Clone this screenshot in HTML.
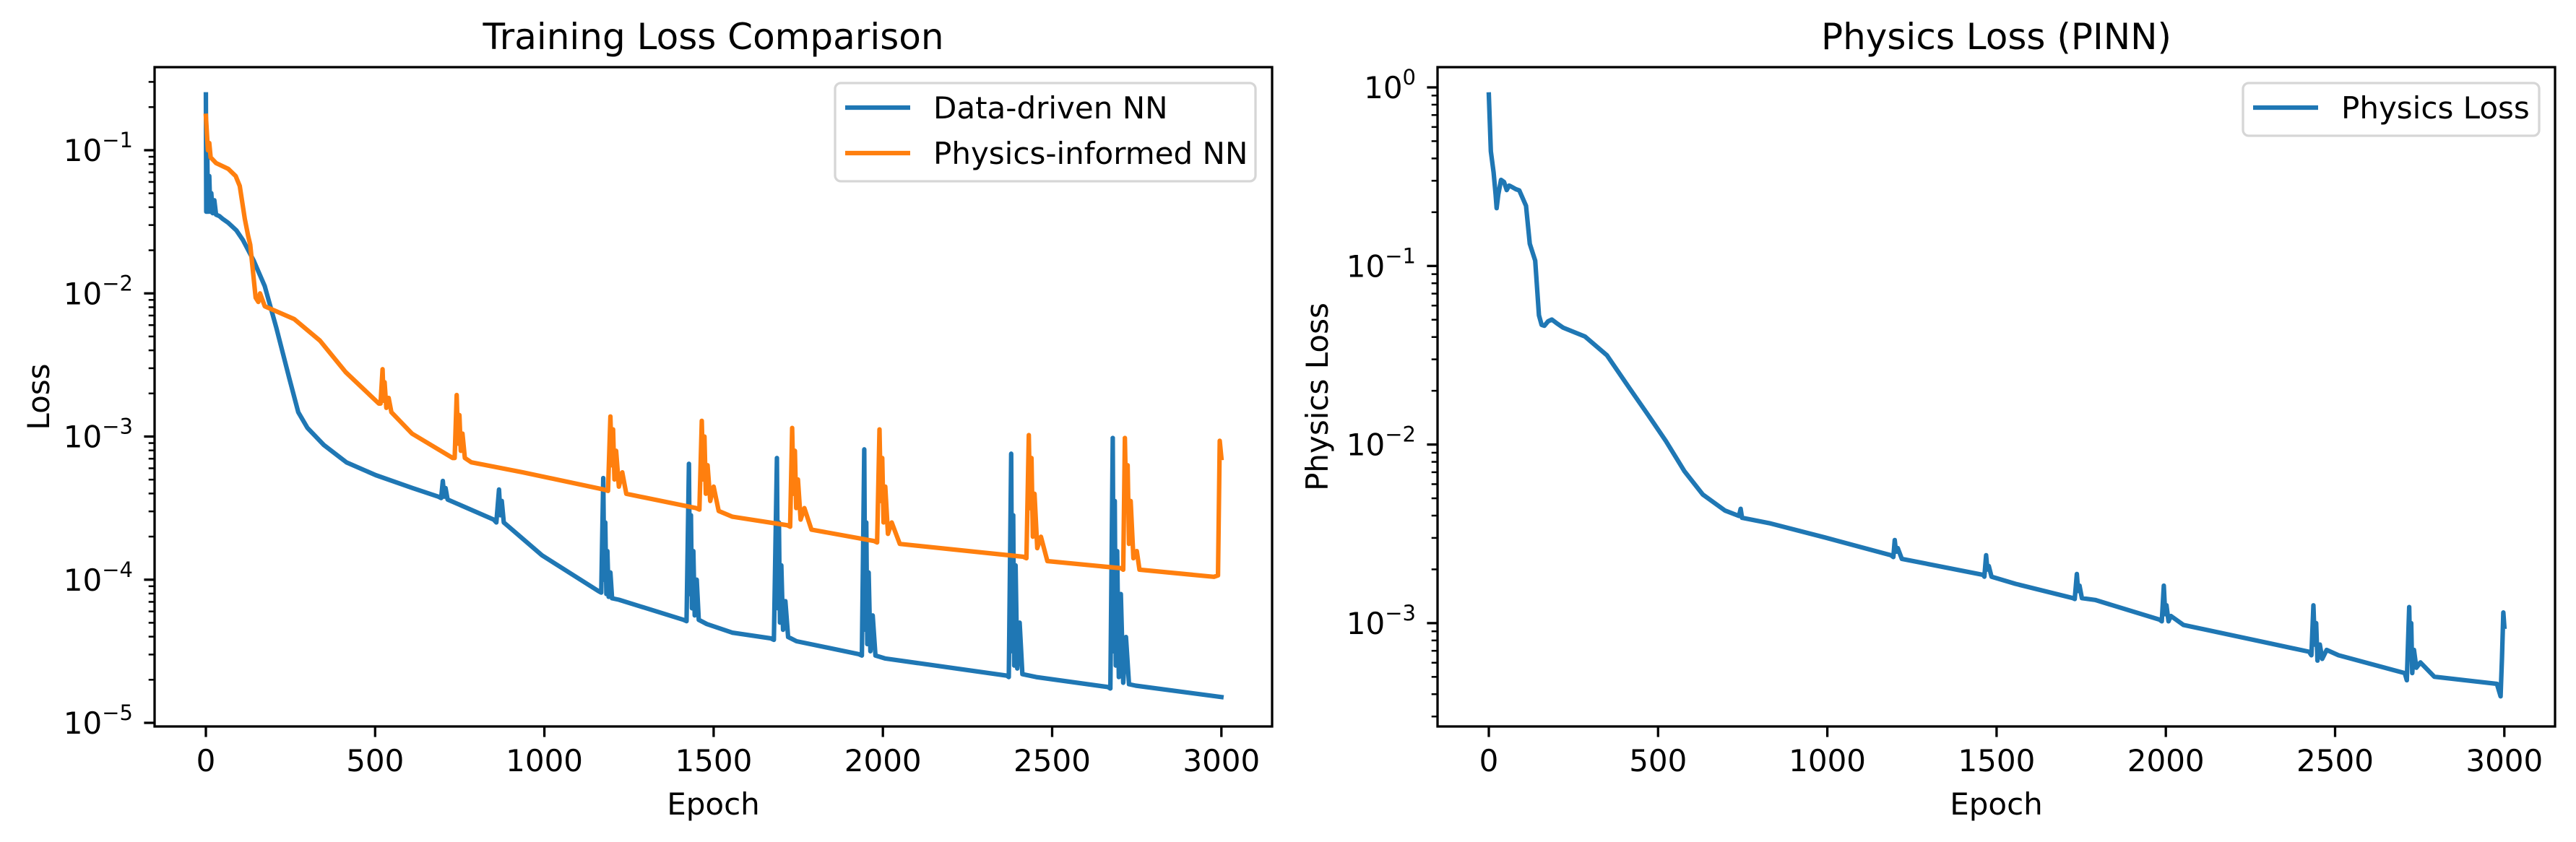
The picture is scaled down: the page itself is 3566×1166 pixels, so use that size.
<!DOCTYPE html>
<html><head><meta charset="utf-8"><style>
html,body{margin:0;padding:0;background:#fff}
svg{display:block}
text{font-family:"DejaVu Sans","Liberation Sans",sans-serif;fill:#000}
</style></head><body>
<svg id="fig" xmlns="http://www.w3.org/2000/svg" width="3566" height="1166" viewBox="0 0 3566 1166">
<rect width="3566" height="1166" fill="#fff"/>
</svg>
<script>
// ---- data (log10 of loss) ----
const dataEpochs=[0,1,4,6,10,13,16,20,25,30,40,50,66,90,109,141,174,208,246,273,300,349,415,502,611,687,695,700,704,708,714,850,858,866,870,874,880,993,1160,1168,1174,1177,1180,1183,1186,1190,1195,1200,1220,1411,1420,1427,1430,1433,1436,1440,1444,1450,1456,1480,1555,1669,1678,1687,1690,1693,1696,1700,1705,1712,1720,1745,1928,1938,1945,1948,1951,1954,1958,1963,1970,1978,2006,2366,2372,2379,2382,2385,2388,2392,2397,2404,2412,2453,2665,2672,2679,2682,2685,2688,2692,2697,2703,2710,2718,2727,2747,3000];
const dataLog10=[-0.61,-1.43,-1.0,-1.43,-1.18,-1.43,-1.3,-1.44,-1.35,-1.45,-1.46,-1.48,-1.507,-1.56,-1.626,-1.77,-1.95,-2.24,-2.59,-2.83,-2.94,-3.06,-3.18,-3.27,-3.36,-3.42,-3.43,-3.31,-3.42,-3.36,-3.44,-3.58,-3.6,-3.37,-3.55,-3.45,-3.6,-3.83,-4.08,-4.09,-3.29,-4.0,-3.6,-4.1,-3.8,-4.12,-3.95,-4.13,-4.14,-4.28,-4.29,-3.19,-4.1,-3.55,-4.2,-3.8,-4.25,-4.0,-4.28,-4.31,-4.37,-4.41,-4.42,-3.15,-4.2,-3.6,-4.3,-3.9,-4.35,-4.15,-4.4,-4.43,-4.52,-4.53,-3.09,-4.35,-3.6,-4.45,-3.95,-4.5,-4.25,-4.53,-4.55,-4.67,-4.68,-3.12,-4.5,-3.55,-4.6,-3.9,-4.62,-4.3,-4.66,-4.68,-4.75,-4.76,-3.01,-4.5,-3.45,-4.6,-3.8,-4.68,-4.1,-4.72,-4.4,-4.73,-4.74,-4.82];
const pinnEpochs=[0,6,10,14,30,66,88,100,115,125,131,147,155,160,174,261,337,413,511,516,522,525,528,533,540,548,609,729,735,741,745,749,753,758,765,784,936,1176,1188,1195,1199,1203,1207,1212,1220,1230,1242,1448,1458,1465,1469,1473,1477,1482,1490,1500,1515,1555,1718,1726,1732,1736,1740,1744,1749,1757,1768,1789,1974,1983,1990,1994,1998,2002,2007,2015,2026,2050,2415,2424,2431,2435,2439,2443,2448,2456,2467,2486,2704,2710,2715,2719,2723,2727,2732,2740,2750,2758,2978,2990,2995,3000];
const pinnLog10=[-0.76,-1.0,-0.95,-1.05,-1.09,-1.13,-1.18,-1.25,-1.48,-1.6,-1.66,-2.03,-2.06,-2.0,-2.09,-2.18,-2.33,-2.55,-2.77,-2.77,-2.53,-2.75,-2.62,-2.8,-2.73,-2.83,-2.98,-3.15,-3.15,-2.71,-3.05,-2.85,-3.1,-2.98,-3.15,-3.18,-3.25,-3.37,-3.38,-2.86,-3.2,-2.95,-3.3,-3.1,-3.35,-3.25,-3.40,-3.50,-3.51,-2.89,-3.3,-3.0,-3.4,-3.2,-3.45,-3.35,-3.52,-3.56,-3.62,-3.63,-2.94,-3.4,-3.1,-3.5,-3.3,-3.58,-3.5,-3.65,-3.73,-3.74,-2.95,-3.45,-3.15,-3.6,-3.35,-3.68,-3.6,-3.75,-3.84,-3.85,-2.99,-3.5,-3.15,-3.7,-3.4,-3.78,-3.7,-3.87,-3.92,-3.93,-3.01,-3.5,-3.2,-3.75,-3.45,-3.85,-3.8,-3.93,-3.98,-3.97,-3.03,-3.15];
const physEpochs=[0,6,14,20,23,28,36,45,53,60,66,80,90,110,121,137,148,156,164,175,186,200,219,284,349,414,469,523,578,632,698,739,744,748,828,992,1188,1195,1199,1203,1208,1220,1460,1464,1469,1473,1477,1485,1556,1726,1731,1737,1741,1745,1752,1791,1981,1988,1994,1998,2002,2008,2015,2052,2423,2430,2436,2440,2444,2448,2455,2462,2475,2510,2706,2712,2719,2722,2725,2728,2733,2740,2752,2793,2978,2989,2993,2997,3000];
const physLog10=[-0.04,-0.358,-0.476,-0.6,-0.676,-0.6,-0.518,-0.53,-0.575,-0.55,-0.555,-0.57,-0.577,-0.663,-0.876,-0.97,-1.276,-1.33,-1.335,-1.31,-1.30,-1.32,-1.345,-1.395,-1.50,-1.68,-1.83,-1.98,-2.15,-2.28,-2.37,-2.40,-2.36,-2.41,-2.44,-2.52,-2.62,-2.63,-2.535,-2.6,-2.58,-2.64,-2.73,-2.74,-2.62,-2.7,-2.68,-2.74,-2.78,-2.86,-2.865,-2.725,-2.82,-2.79,-2.86,-2.87,-2.98,-2.99,-2.79,-2.95,-2.9,-2.99,-2.96,-3.01,-3.16,-3.18,-2.90,-3.12,-3.0,-3.21,-3.12,-3.2,-3.15,-3.18,-3.28,-3.32,-2.91,-3.2,-3.0,-3.28,-3.15,-3.25,-3.22,-3.30,-3.34,-3.41,-3.2,-2.94,-3.02];
const xTicks=[0,500,1000,1500,2000,2500,3000];
const leftDecades=[-1,-2,-3,-4,-5];
const rightDecades=[0,-1,-2,-3];

const NS="http://www.w3.org/2000/svg";
const svg=document.getElementById('fig');
function el(tag,attrs,parent){const e=document.createElementNS(NS,tag);for(const k in attrs)e.setAttribute(k,attrs[k]);(parent||svg).appendChild(e);return e;}

function makeAxes(cfg){
  const g=el('g',{});
  
  
  const X=e=>cfg.x0+e*0.4686;
  const Y=l=>cfg.yRef-(l-cfg.lRef)*cfg.dec;
  // clip
  const cid=cfg.name+'-clip';
  const cp=el('clipPath',{id:cid},g);el('rect',{x:cfg.L,y:cfg.T,width:cfg.R-cfg.L,height:cfg.B-cfg.T},cp);
  // series
  cfg.series.forEach(s=>{
    let d='';s.ex.forEach((e,i)=>{d+=(i?'L':'M')+X(e).toFixed(1)+' '+Y(s.ly[i]).toFixed(1);});
    const p=el('path',{d:d,fill:'none',stroke:s.color,'stroke-width':6.25,'stroke-linejoin':'round','stroke-linecap':'square','clip-path':'url(#'+cid+')'},g);
    
    
  });
  // x ticks
  xTicks.forEach(t=>{
    const x=X(t);
    el('line',{x1:x,y1:cfg.B,x2:x,y2:cfg.B+14.6,stroke:'#000','stroke-width':3.3},g);
    const tx=el('text',{x:x,y:1068,'font-size':42,'text-anchor':'middle'},g);tx.textContent=t;
    
    
  });
  // y ticks
  cfg.decades.forEach(dv=>{
    const y=Y(dv);
    el('line',{x1:cfg.L-14.6,y1:y,x2:cfg.L,y2:y,stroke:'#000','stroke-width':3.3},g);
    const tx=el('text',{x:cfg.L-30,y:y+15,'font-size':42,'text-anchor':'end'},g);
    
    
    const a=document.createElementNS(NS,'tspan');a.textContent='10';tx.appendChild(a);
    const b=document.createElementNS(NS,'tspan');b.setAttribute('font-size','29');b.setAttribute('dy','-19');
    b.textContent=dv===0?'0':'\u2212'+(-dv);tx.appendChild(b);
    // minor
    for(let m=2;m<=9;m++){
      for(const base of [dv,dv-1]){
        const ym=Y(base+Math.log10(m));
        if(ym>cfg.T&&ym<cfg.B&&!(base===dv-1&&cfg.decades.includes(dv-1)))
          el('line',{x1:cfg.L-8.3,y1:ym,x2:cfg.L,y2:ym,stroke:'#000','stroke-width':2.5},g);
      }
    }
  });
  // frame
  el('rect',{x:cfg.L,y:cfg.T,width:cfg.R-cfg.L,height:cfg.B-cfg.T,fill:'none',stroke:'#000','stroke-width':3.3},g);
  // title and labels
  const cx=(cfg.L+cfg.R)/2;
  const ti=el('text',{x:cx,y:68,'font-size':50,'text-anchor':'middle'},g);ti.textContent=cfg.title;
  
  
  const xl=el('text',{x:cx,y:1128,'font-size':42,'text-anchor':'middle'},g);xl.textContent='Epoch';
  
  
  const yl=el('text',{x:0,y:0,'font-size':42,'text-anchor':'middle',transform:'translate('+cfg.ylx+','+((cfg.T+cfg.B)/2)+') rotate(-90)'},g);yl.textContent=cfg.ylabel;
  
  
  // legend
  const lg=el('g',{},g);
  
  
  const lb=cfg.legend;
  el('rect',{x:lb.x,y:lb.y,width:lb.w,height:lb.h,rx:8,fill:'#fff','fill-opacity':0.8,stroke:'#d6d6d6','stroke-width':3.3},lg);
  cfg.series.forEach((s,i)=>{
    const yy=lb.y+34+i*63;
    const ln=el('line',{x1:lb.x+14,y1:yy,x2:lb.x+104,y2:yy,stroke:s.color,'stroke-width':6.25},lg);
    
    
    const t=el('text',{x:lb.x+136,y:yy+15,'font-size':42},lg);t.textContent=s.label;
    
    
  });
}

makeAxes({name:'training-loss-panel',L:214,R:1761,T:93,B:1006,x0:285,yRef:208,lRef:-1,dec:198.25,
  decades:leftDecades,title:'Training Loss Comparison',ylabel:'Loss',ylx:68,
  legend:{x:1156,y:115,w:582,h:136},
  series:[{name:'data-driven-line',label:'Data-driven NN',color:'#1f77b4',ex:dataEpochs,ly:dataLog10},
          {name:'physics-informed-line',label:'Physics-informed NN',color:'#ff7f0e',ex:pinnEpochs,ly:pinnLog10}]});
makeAxes({name:'physics-loss-panel',L:1990,R:3537,T:93,B:1006,x0:2061,yRef:121,lRef:0,dec:247.3,
  decades:rightDecades,title:'Physics Loss (PINN)',ylabel:'Physics Loss',ylx:1838,
  legend:{x:3105,y:115,w:410,h:73},
  series:[{name:'physics-loss-line',label:'Physics Loss',color:'#1f77b4',ex:physEpochs,ly:physLog10}]});
</script>
</body></html>
